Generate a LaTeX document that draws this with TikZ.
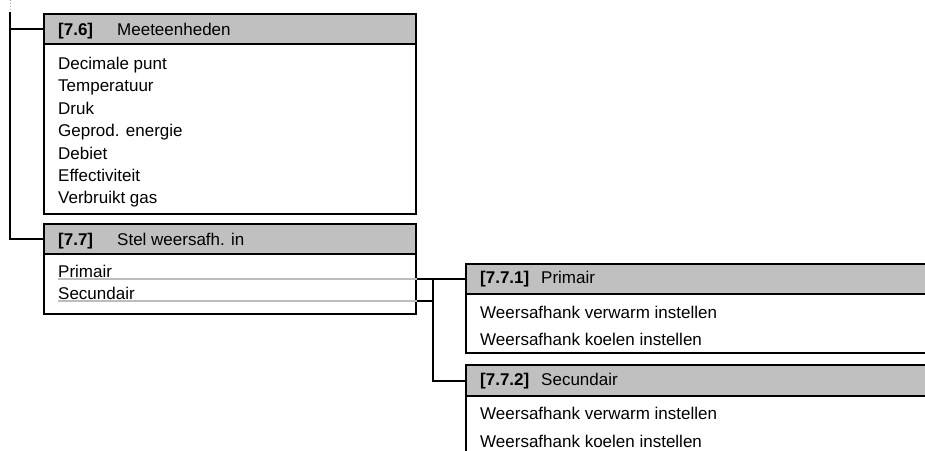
\documentclass[tikz,border=0pt]{standalone}
\usepackage{fontspec}
\setmainfont{Liberation Sans}
\usetikzlibrary{positioning}
\definecolor{hdrgray}{HTML}{C0C0C0}
\definecolor{rulegray}{HTML}{BDBDBD}

\begin{document}
\begin{tikzpicture}[x=1pt, y=-1pt, font=\fontsize{17}{20}\selectfont,
  hdr/.style={draw, fill=hdrgray, line width=2pt, anchor=north west, minimum height=30pt, inner sep=0pt},
  body/.style={draw, fill=white, line width=2pt, anchor=north west, inner sep=0pt},
  txt/.style={anchor=base west, inner sep=0pt},
  conn/.style={line width=2pt},
  uline/.style={line width=1.5pt, color=rulegray}]
\useasboundingbox (0,0) rectangle (925,450);
\clip (0,0) rectangle (925,450);
\node[body, minimum width=372pt, minimum height=170pt] (b76) at (43,43) {};
\node[hdr, minimum width=372pt] (h76) at (43,13) {};
\node[txt, font=\fontsize{17}{20}\selectfont\bfseries] (k76) at (58,35) {[7.6]};
\node[txt] (n76) at (117,35) {Meeteenheden};
\node[txt] (i1) at (58,69) {Decimale punt};
\node[txt] (i2) at (58,91.5) {Temperatuur};
\node[txt] (i3) at (58,114) {Druk};
\node[txt] (i4) at (58,136.5) {Geprod. energie};
\node[txt] (i5) at (58,159) {Debiet};
\node[txt] (i6) at (58,181.5) {Effectiviteit};
\node[txt] (i7) at (58,203.5) {Verbruikt gas};
\node[body, minimum width=372pt, minimum height=60pt] (b77) at (43,253) {};
\node[hdr, minimum width=372pt] (h77) at (43,223) {};
\node[txt, font=\fontsize{17}{20}\selectfont\bfseries] (k77) at (58,245) {[7.7]};
\node[txt] (n77) at (117,245) {Stel weersafh. in};
\node[txt] (prim) at (58,277) {Primair};
\node[txt] (secu) at (58,299) {Secundair};
\draw[uline] ([yshift=-2pt]prim.base west) -- ([yshift=-2pt]prim.base west -| b77.east);
\draw[uline] ([yshift=-2pt]secu.base west) -- ([yshift=-2pt]secu.base west -| b77.east);
\node[body, minimum width=480pt, minimum height=59pt] (b771) at (465,293) {};
\node[hdr, minimum width=480pt] (h771) at (465,263) {};
\node[txt, font=\fontsize{17}{20}\selectfont\bfseries] (k771) at (480,283) {[7.7.1]};
\node[txt] (n771) at (541,283) {Primair};
\node[txt] (w1) at (480,318) {Weersafhank verwarm instellen};
\node[txt] (w2) at (480,345) {Weersafhank koelen instellen};
\node[body, minimum width=480pt, minimum height=80pt] (b772) at (465,395) {};
\node[hdr, minimum width=480pt, minimum height=31pt] (h772) at (465,364) {};
\node[txt, font=\fontsize{17}{20}\selectfont\bfseries] (k772) at (480,385) {[7.7.2]};
\node[txt] (n772) at (541,385) {Secundair};
\node[txt] (w3) at (480,419) {Weersafhank verwarm instellen};
\node[txt] (w4) at (480,447) {Weersafhank koelen instellen};
\coordinate (top) at (10,0);
\coordinate (trunk) at (10,12);
\coordinate (fork) at (433,0);
\coordinate (sec) at ([yshift=-2pt]secu.base west -| b77.east);
\draw[dotted, line width=1pt, color=black!35] (top) -- (trunk);
\draw[conn] (trunk) |- (h77.west);
\draw[conn] (trunk |- h76.west) -- (h76.west);
\draw[conn] (b77.east |- h771.west) -- (h771.west);
\draw[conn] (sec) -- (sec -| fork);
\draw[conn] (fork |- h771.west) |- (h772.west);
\end{tikzpicture}
\end{document}
